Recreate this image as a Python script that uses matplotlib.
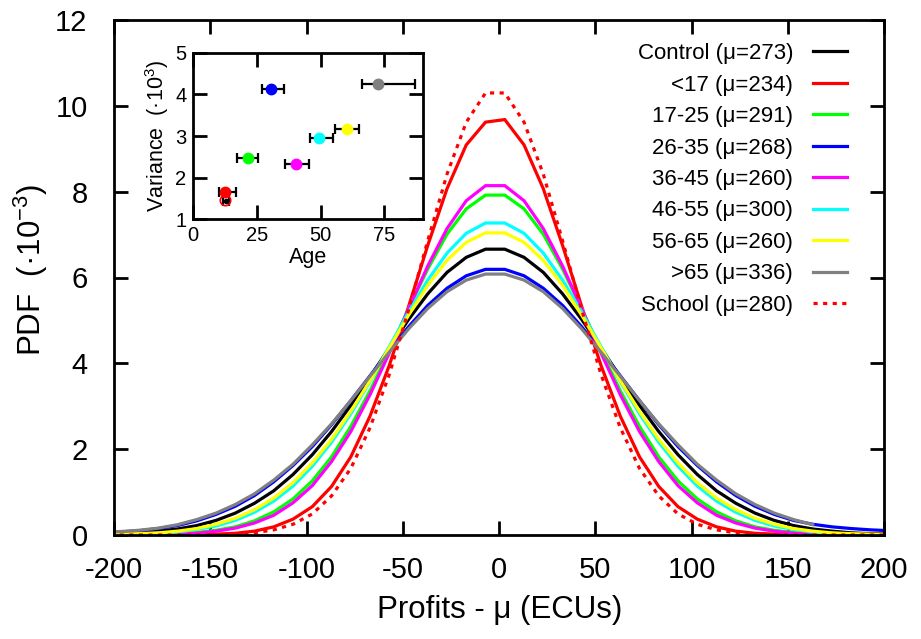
import numpy as np
import matplotlib
matplotlib.use("Agg")
import matplotlib.pyplot as plt

plt.rcParams['font.family'] = ['Liberation Sans', 'DejaVu Sans']
plt.rcParams['mathtext.fontset'] = 'custom'
plt.rcParams['mathtext.rm'] = 'Liberation Sans'
plt.rcParams['mathtext.default'] = 'rm'
plt.rcParams['axes.unicode_minus'] = False

# x grid of the PDF curves (Profits - mu, ECUs)
profit = [-207, -197, -187, -177, -167, -157, -147, -137, -127, -117, -107,
          -97, -87, -77, -67, -57, -47, -37, -27, -17, -7,
          3, 13, 23, 33, 43, 53, 63, 73, 83, 93, 103, 113, 123, 133, 143,
          153, 163, 173, 183, 193, 203]

pdf_control = [0.02, 0.03, 0.05, 0.09, 0.14, 0.22, 0.34, 0.51, 0.74, 1.03, 1.41,
               1.87, 2.41, 3.02, 3.68, 4.36, 5.02, 5.62, 6.12, 6.47, 6.66,
               6.66, 6.47, 6.12, 5.62, 5.02, 4.36, 3.68, 3.02, 2.41, 1.87, 1.41,
               1.03, 0.74, 0.51, 0.34, 0.22, 0.14, 0.09, 0.05, 0.03, 0.02]
pdf_u17 = [0.0, 0.0, 0.0, 0.0, 0.0, 0.01, 0.02, 0.04, 0.09, 0.19, 0.37,
           0.66, 1.13, 1.82, 2.77, 3.95, 5.32, 6.75, 8.07, 9.09, 9.62,
           9.68, 9.09, 8.07, 6.75, 5.32, 3.95, 2.77, 1.82, 1.13, 0.66, 0.37,
           0.19, 0.09, 0.04, 0.02, 0.01, 0.0, 0.0, 0.0, 0.0, 0.0]
pdf_17_25 = [0.0, 0.0, 0.01, 0.02, 0.03, 0.06, 0.11, 0.19, 0.33, 0.54, 0.84,
             1.26, 1.82, 2.53, 3.36, 4.29, 5.27, 6.20, 7.01, 7.60, 7.92,
             7.92, 7.60, 7.01, 6.20, 5.27, 4.29, 3.36, 2.53, 1.82, 1.26, 0.84,
             0.54, 0.33, 0.19, 0.11, 0.06, 0.03, 0.02, 0.01, 0.0, 0.0]
pdf_26_35 = [0.05, 0.07, 0.10, 0.15, 0.22, 0.33, 0.48, 0.67, 0.92, 1.24, 1.62,
             2.06, 2.57, 3.13, 3.71, 4.29, 4.85, 5.35, 5.75, 6.04, 6.19,
             6.19, 6.04, 5.75, 5.35, 4.85, 4.29, 3.71, 3.13, 2.57, 2.06, 1.62,
             1.24, 0.92, 0.67, 0.48, 0.34, 0.25, 0.19, 0.15, 0.12, 0.10]
pdf_36_45 = [0.0, 0.0, 0.0, 0.01, 0.02, 0.04, 0.09, 0.16, 0.28, 0.46, 0.75,
             1.15, 1.71, 2.41, 3.27, 4.24, 5.27, 6.27, 7.14, 7.79, 8.14,
             8.14, 7.79, 7.14, 6.27, 5.27, 4.24, 3.27, 2.41, 1.71, 1.15, 0.75,
             0.46, 0.28, 0.16, 0.09, 0.04, 0.02, 0.01, 0.0, 0.0, 0.0]
pdf_46_55 = [0.01, 0.01, 0.02, 0.04, 0.07, 0.13, 0.21, 0.34, 0.53, 0.79, 1.14,
             1.60, 2.16, 2.82, 3.58, 4.39, 5.19, 5.94, 6.57, 7.03, 7.27,
             7.27, 7.03, 6.57, 5.94, 5.19, 4.39, 3.58, 2.82, 2.16, 1.60, 1.14,
             0.79, 0.53, 0.34, 0.21, 0.13, 0.07, 0.04, 0.02, 0.01, 0.01]
pdf_56_65 = [0.01, 0.02, 0.03, 0.05, 0.09, 0.15, 0.25, 0.39, 0.59, 0.86, 1.22,
             1.68, 2.23, 2.88, 3.60, 4.36, 5.12, 5.82, 6.40, 6.82, 7.04,
             7.04, 6.82, 6.40, 5.82, 5.12, 4.36, 3.60, 2.88, 2.23, 1.68, 1.22,
             0.86, 0.59, 0.39, 0.25, 0.15, 0.09, 0.05, 0.03, 0.02, 0.01]
pdf_o65 = [0.06, 0.08, 0.11, 0.16, 0.24, 0.36, 0.51, 0.71, 0.96, 1.28, 1.65,
           2.10, 2.59, 3.13, 3.70, 4.26, 4.80, 5.28, 5.67, 5.94, 6.08,
           6.08, 5.94, 5.67, 5.28, 4.80, 4.26, 3.70, 3.13, 2.59, 2.10, 1.65,
           1.28, 0.96, 0.71, 0.51, 0.36, 0.24]
pdf_school = [0.0, 0.0, 0.0, 0.0, 0.0, 0.0, 0.01, 0.02, 0.05, 0.12, 0.25,
              0.49, 0.91, 1.55, 2.50, 3.74, 5.24, 6.86, 8.41, 9.62, 10.30,
              10.30, 9.62, 8.41, 6.86, 5.24, 3.74, 2.50, 1.55, 0.91, 0.49, 0.25,
              0.12, 0.05, 0.02, 0.01, 0.0, 0.0, 0.0, 0.0, 0.0, 0.0]

labels = ['Control (μ=273)', '<17 (μ=234)', '17-25 (μ=291)', '26-35 (μ=268)',
          '36-45 (μ=260)', '46-55 (μ=300)', '56-65 (μ=260)', '>65 (μ=336)',
          'School (μ=280)']
colors = ['#000000', '#ff0000', '#00ff00', '#0000ff', '#ff00ff',
          '#00ffff', '#ffff00', '#808080', '#ff0000']

# inset: mean age, age range and variance (x10^3) per group
age_mean = [12.8, 12.4, 21.4, 30.5, 40.2, 49.5, 60.2, 72.6]
age_lo = [11.6, 10.1, 17.0, 26.8, 36.0, 45.8, 55.6, 66.1]
age_hi = [14.0, 16.6, 25.3, 35.6, 45.4, 55.0, 65.2, 87.0]
variance = [1.45, 1.66, 2.48, 4.14, 2.32, 2.96, 3.16, 4.26]
school_age = 12.6
school_var = 1.47

W, H = 921, 639
fig = plt.figure(figsize=(W / 100, H / 100), dpi=100)
ax = fig.add_axes([114 / W, 1 - 535 / H, 770 / W, 515 / H])

curves = [pdf_control, pdf_u17, pdf_17_25, pdf_26_35, pdf_36_45,
          pdf_46_55, pdf_56_65, pdf_o65]
for ys, lab, c in zip(curves, labels[:-1], colors[:-1]):
    ax.plot(profit[:len(ys)], ys, color=c, lw=2.3, label=lab, solid_joinstyle='miter')
ax.plot(profit, pdf_school, color=colors[-1], lw=2.3, ls=(0, (1.3, 1.7)),
        dash_capstyle='butt', label=labels[-1])

ax.set_xlim(-200, 200)
ax.set_ylim(0, 12)
ax.set_xticks(range(-200, 201, 50))
ax.set_yticks(range(0, 13, 2))
ax.tick_params(direction='in', length=10, width=2, top=True, right=True, labelsize=21)
ax.tick_params(axis='y', pad=19)
ax.tick_params(axis='x', pad=15)
for sp in ax.spines.values():
    sp.set_linewidth(2)

fig.text(500 / W, 1 - 610 / H, 'Profits - μ (ECUs)', ha='center', va='center', fontsize=22.5)
fig.text(31 / W, 1 - 270 / H, 'PDF  (·10$^{-3}$)', ha='center', va='center',
         rotation=90, fontsize=22.5)

ax.legend(loc='upper right', bbox_to_anchor=(0.952, 0.955), markerfirst=False,
          frameon=False, fontsize=16, handlelength=1.53, handletextpad=0.9,
          labelspacing=0.47, borderpad=0, borderaxespad=0)

# inset
axi = fig.add_axes([193.3 / W, 1 - 219.3 / H, 229.4 / W, 166.6 / H])
xerr = [np.array(age_mean) - np.array(age_lo), np.array(age_hi) - np.array(age_mean)]
axi.errorbar(age_mean, variance, xerr=xerr, fmt='none', ecolor='black',
             elinewidth=1.6, capsize=3.5, capthick=1.6)
for a, v, c in zip(age_mean, variance, colors[:-1]):
    ms = 3 if c == '#000000' else 7.5
    axi.plot(a, v, 'o', color=c, ms=ms, zorder=3)
axi.plot(school_age, school_var, 'o', mfc='none', mec=colors[-1], ms=7.5, mew=1.2, zorder=4)
axi.set_xlim(0, 90)
axi.set_ylim(1, 5)
axi.set_xticks([0, 25, 50, 75])
axi.set_yticks([1, 2, 3, 4, 5])
axi.tick_params(direction='in', length=10, width=2, top=True, right=True,
                labelsize=14.5, pad=5)
for sp in axi.spines.values():
    sp.set_linewidth(2)
axi.set_xlabel('Age', fontsize=15.5, labelpad=1)
axi.set_ylabel('Variance  (·10$^3$)', fontsize=15.5, labelpad=3)

fig.savefig('out.png', dpi=100)
